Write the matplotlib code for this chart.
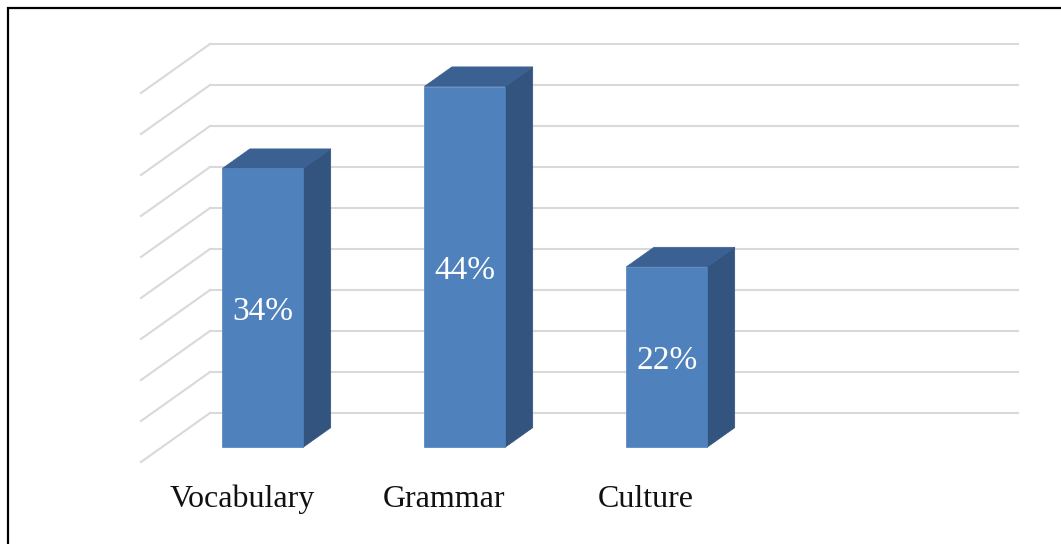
import matplotlib
matplotlib.use("Agg")
import matplotlib.pyplot as plt
from matplotlib.patches import Polygon, Rectangle

categories = ["Vocabulary", "Grammar", "Culture"]
values = [34, 44, 22]
value_labels = ["34%", "44%", "22%"]
n_slots = 4                      # the category axis leaves one empty slot on the right
grid_levels = list(range(0, 50, 5))

W, H = 1061, 544
fig = plt.figure(figsize=(W / 100, H / 100), dpi=100)
fig.patch.set_facecolor("white")

# back wall of the 3-D plot area
ax = fig.add_axes([210 / W, 131 / H, 808 / W, 369 / H])
ax.set_xlim(0, n_slots)
ax.set_ylim(0, 45)
ax.axis("off")

# full depth of the floor, converted from pixels to data units
px_x = 808 / n_slots
px_y = 369 / 45
DX = 69 / px_x
DY = 49 / px_y


def proj(x, y, d):
    """Point at depth d (0 = back wall, 1 = front edge)."""
    return (x - d * DX, y - d * DY)


grid_col = "#d9d9d9"
for t in grid_levels:
    ax.plot([0, n_slots], [t, t], color=grid_col, lw=1.5, zorder=0, clip_on=False)
    fx, fy = proj(0, t, 1)
    ax.plot([fx, 0], [fy, t], color=grid_col, lw=1.5, zorder=0, clip_on=False)

front_col = "#4f81bd"
side_col = "#32547e"
top_col = "#3b6192"
bar_w = 0.4
d_front, d_back = 0.70, 0.30

for i, (cat, v, lab) in enumerate(zip(categories, values, value_labels)):
    c = i + 0.5
    x0, x1 = c - bar_w / 2, c + bar_w / 2
    front = [proj(x0, 0, d_front), proj(x1, 0, d_front),
             proj(x1, v, d_front), proj(x0, v, d_front)]
    side = [proj(x1, 0, d_front), proj(x1, 0, d_back),
            proj(x1, v, d_back), proj(x1, v, d_front)]
    top = [proj(x0, v, d_front), proj(x1, v, d_front),
           proj(x1, v, d_back), proj(x0, v, d_back)]
    for pts, col in ((side, side_col), (top, top_col), (front, front_col)):
        ax.add_patch(Polygon(pts, closed=True, facecolor=col, edgecolor=col,
                             lw=0.5, zorder=3, clip_on=False))

    lx, ly = proj(c, v / 2, d_front)
    ax.text(lx, ly, lab, ha="center", va="center_baseline", color="white",
            fontsize=24, family="Liberation Serif", zorder=5)

    ax.annotate(cat, xy=proj(c, 0, 1), xytext=(0, -45 * 0.72),
                textcoords="offset points", ha="center", va="baseline",
                fontsize=23, family="Liberation Serif", color="#111111",
                annotation_clip=False)

# outer frame (left and top edges fall inside the image)
fig.patches.append(Rectangle((8 / W, -0.05), 1.2, (H - 8) / H + 0.05,
                             transform=fig.transFigure, fill=False,
                             edgecolor="black", lw=1.6))

fig.savefig("out.png", dpi=100, facecolor="white")
